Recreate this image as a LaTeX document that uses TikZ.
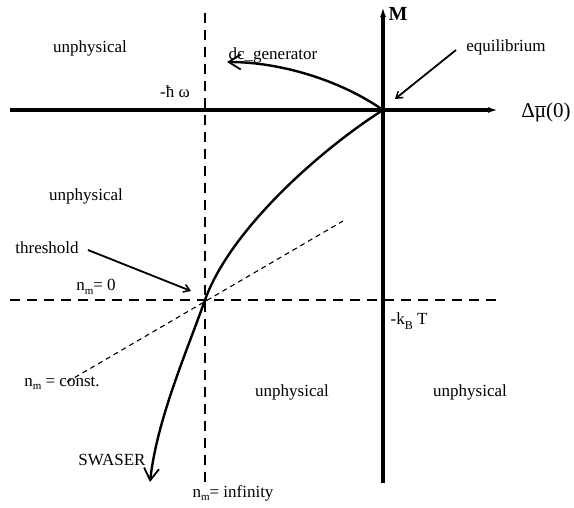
\documentclass[tikz,border=0pt]{standalone}
\usepackage{fontspec}
\setmainfont{Liberation Serif}
\usetikzlibrary{arrows.meta}
\newcommand{\nsub}[1]{n\raisebox{-0.45ex}{\fontsize{11}{12}\selectfont #1}}
\begin{document}
\begin{tikzpicture}[x=1pt,y=-1pt,
  axis/.style={line width=3.2pt},
  axtip/.style={-{Latex[length=10pt,width=6pt]}},
  guide/.style={line width=2.6pt, dash pattern=on 10pt off 7pt},
  thinguide/.style={line width=1.1pt, dash pattern=on 5pt off 4pt},
  curve/.style={line width=2.4pt},
  barb/.style={-{Straight Barb[length=12pt,width=15pt,line width=1.8pt]}},
  ptr/.style={line width=1.8pt,-{Straight Barb[length=6pt,width=8pt,line width=1.5pt]}},
  lbl/.style={font=\fontsize{17}{19}\selectfont, inner sep=0pt},
]
\useasboundingbox (0,0) rectangle (574,508);
% key points
\coordinate (O) at (383,110);
\coordinate (T) at (205,300);
\coordinate (axL) at (10,110);
\coordinate (axR) at (498,110);
\coordinate (ayB) at (383,483);
\coordinate (ayT) at (383,7);
\coordinate (dvT) at (205,13);
\coordinate (dvB) at (205,484);
\coordinate (dhL) at (10,300);
\coordinate (dhR) at (497,300);
\coordinate (diagL) at (67,382);
\coordinate (diagR) at (343,221);
\coordinate (dcTip) at (227,62);
\coordinate (swTip) at (150,482);
\coordinate (eqStart) at (456,50);
\coordinate (eqTip) at (395,99);
\coordinate (thStart) at (88,250);
\coordinate (thTip) at (191,291);

% guide lines
\draw[guide] (dvT) -- (dvB);
\draw[guide] (dhL) -- (dhR);
\draw[thinguide] (diagL) -- (diagR);

% axes
\draw[axis,axtip] (axL) -- (axR);
\draw[axis,axtip] (ayB) -- (ayT);

% curves
\draw[curve,barb] (O) .. controls (320,150) and (230,230) .. (T)
                      .. controls (185,356) and (157,420) .. (swTip);
\draw[curve,barb] (O) .. controls (340,80) and (280,62) .. (dcTip);

% pointers
\draw[ptr] (eqStart) -- (eqTip);
\draw[ptr] (thStart) -- (thTip);

% labels
\node[lbl] (u1) at (90,48) {unphysical};
\node[lbl] (u2) at (86,196) {unphysical};
\node[lbl] (u3) at (292,392) {unphysical};
\node[lbl] (u4) at (470,392) {unphysical};
\node[lbl] (hw) at (175,92) {-ħ ω};
\node[lbl] (dc) at (273,55) {dc\_generator};
\node[lbl] (eq) at (506,47) {equilibrium};
\node[lbl,font=\fontsize{20}{22}\selectfont\bfseries] (M) at (398,14) {M};
\node[lbl,font=\fontsize{21}{23}\selectfont] (mu) at (546,112) {Δ$\overline{\hbox{μ}}$(0)};
\node[lbl] (th) at (47,248) {threshold};
\node[lbl] (n0) at (96,287) {\nsub{m}= 0};
\node[lbl] (nc) at (62,383) {\nsub{m} = const.};
\node[lbl] (sw) at (112,460) {SWASER};
\node[lbl] (ni) at (233,493) {\nsub{m}= infinity};
\node[lbl] (kt) at (409,321) {-k\raisebox{-0.6ex}{\fontsize{12}{13}\selectfont B} T};
\end{tikzpicture}
\end{document}
